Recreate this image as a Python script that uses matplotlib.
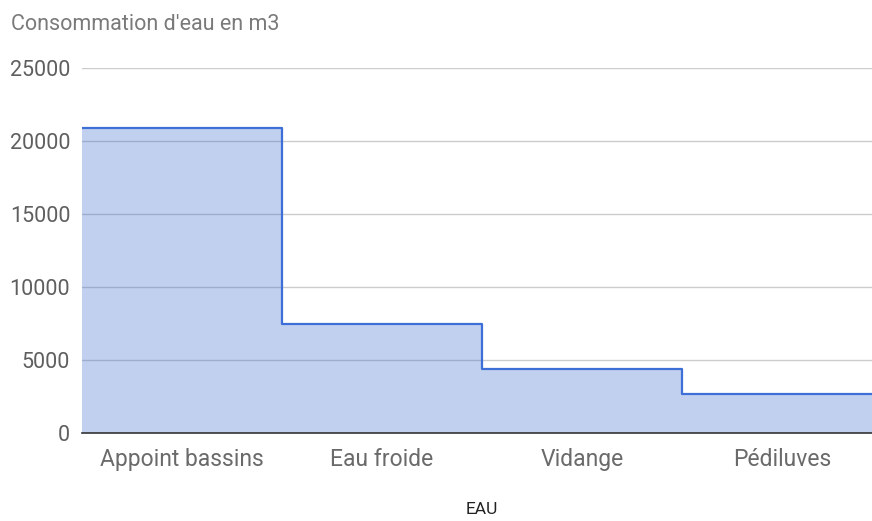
import matplotlib.pyplot as plt
import matplotlib.transforms as mtransforms
import numpy as np

plt.rcParams['font.family'] = ['Roboto', 'DejaVu Sans']

categories = ["Appoint bassins", "Eau froide", "Vidange", "Pédiluves"]
values = [20900, 7500, 4400, 2700]
y_ticks = [0, 5000, 10000, 15000, 20000, 25000]

W, H = 872, 521
fig = plt.figure(figsize=(W / 100, H / 100), dpi=100)
# plot area: x 82..882 (cut by the image edge), y 68..433
ax = fig.add_axes([82 / W, 1 - 433 / H, 1 - 82 / W, (433 - 68) / H])

edges = np.arange(len(categories) + 1)
vals = values + [values[-1]]

ax.fill_between(edges, vals, step="post", color="#3366cc", alpha=0.3,
                linewidth=0, zorder=2)
ax.step(edges, vals, where="post", color="#3e6fd6", linewidth=1.6, zorder=3)

ax.set_xlim(0, 3.95)
ax.set_ylim(0, 25000)
ax.set_yticks(y_ticks)
ax.set_yticklabels([str(t) for t in y_ticks])
ax.set_xticks(np.arange(len(categories)) + 0.5)
ax.set_xticklabels(categories)

ax.grid(axis="y", color="#cccccc", linewidth=1, zorder=1)
ax.set_axisbelow(True)
for s in ["top", "right", "left"]:
    ax.spines[s].set_visible(False)
ax.spines["bottom"].set_color("#333333")
ax.spines["bottom"].set_linewidth(1.2)
ax.spines["bottom"].set_zorder(4)

ax.tick_params(axis="y", length=0, pad=8.5, labelsize=15.5, labelcolor="#5f5f5f")
ax.tick_params(axis="x", length=0, pad=11, labelsize=16.5, labelcolor="#6a6a6a")

fig.text(11 / W, 1 - 24 / H, "Consommation d'eau en m3", fontsize=15.5,
         color="#7a7a7a", ha="left", va="center")
# axis title centred under the whole plot area
trans = mtransforms.blended_transform_factory(ax.transData, fig.transFigure)
ax.text(2.0, 1 - 509 / H, "EAU", transform=trans, fontsize=12.5,
        color="#222222", ha="center", va="center")

fig.savefig("out.png", dpi=100)
